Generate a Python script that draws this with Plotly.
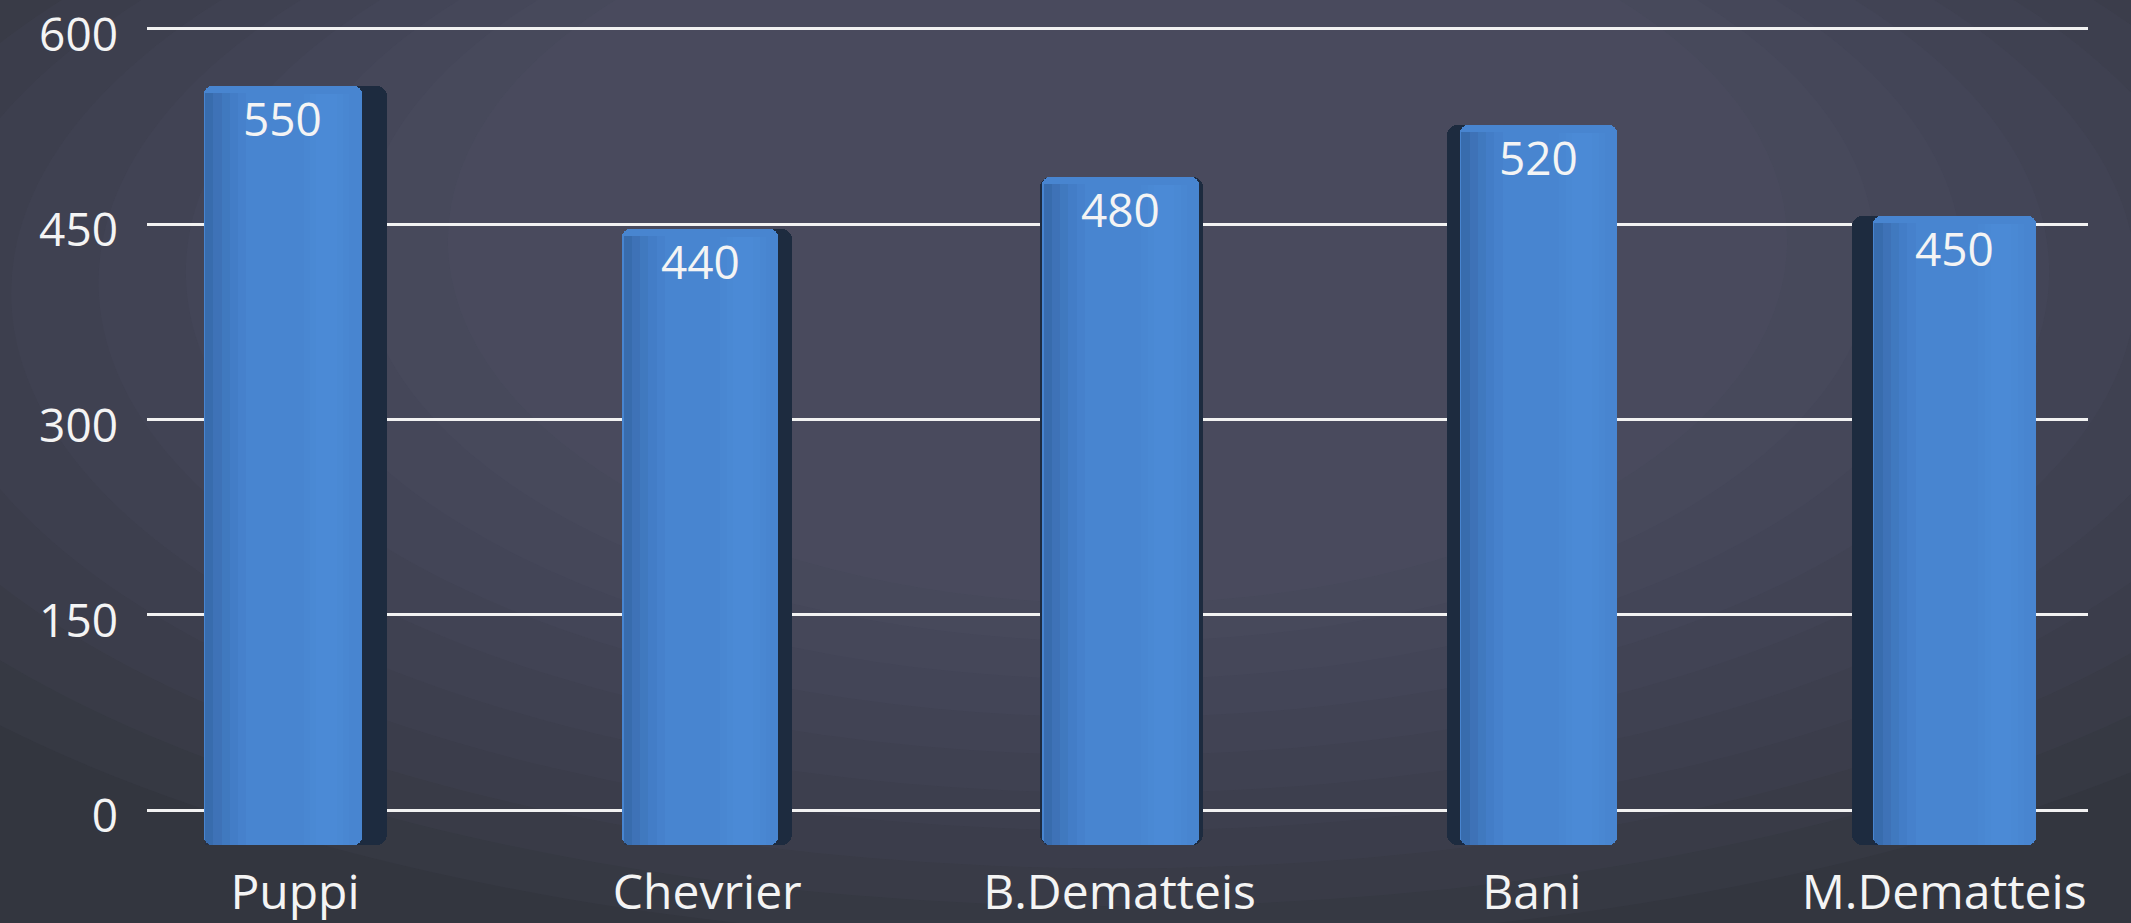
import plotly.graph_objects as go

# ---- data ----
categories = ["Puppi", "Chevrier", "B.Dematteis", "Bani", "M.Dematteis"]
values = [550, 440, 480, 520, 450]
y_ticks = [0, 150, 300, 450, 600]

# ---- styling (3D-look bars: dark side body + lit front face) ----
BASE = -27
TOP_PAD = 6
PX_PER_CAT = 412.25
side_offset = [-0.221, -0.206, -0.193, -0.206, -0.223]
side_width = [0.444, 0.412, 0.395, 0.412, 0.446]
front_offset = [-0.221, -0.206, -0.187, -0.174, -0.172]
front_width = [0.383, 0.378, 0.380, 0.381, 0.395]

FONT = "Open Sans"
WHITE = "#f4f4f4"

fig = go.Figure()

heights = [v - BASE + TOP_PAD for v in values]

# dark body (side faces)
fig.add_trace(go.Bar(
    x=categories, y=heights, base=BASE,
    offset=side_offset, width=side_width,
    marker=dict(color="#1d2b3f", line=dict(width=0), cornerradius=10),
    hoverinfo="skip", showlegend=False,
))
# front face
fig.add_trace(go.Bar(
    x=categories, y=heights, base=BASE,
    offset=front_offset, width=front_width,
    marker=dict(color="#4885d0", line=dict(width=0), cornerradius=8),
    customdata=values, hovertemplate="%{x}: %{customdata}<extra></extra>",
    showlegend=False,
))
# soft left shading of the front face (layered thin strips)
for k, a in enumerate([0.10, 0.08, 0.06, 0.045, 0.03]):
    fig.add_trace(go.Bar(
        x=categories, y=[h - 5 for h in heights], base=BASE,
        offset=[o + 0.003 for o in front_offset], width=[0.02 + 0.02 * k] * 5,
        marker=dict(color=f"rgba(20,45,90,{a})", line=dict(width=0)),
        hoverinfo="skip", showlegend=False,
    ))
# soft highlight towards the right of the front face
for k, a in enumerate([0.06, 0.06, 0.06]):
    fig.add_trace(go.Bar(
        x=categories, y=[h - 6 for h in heights], base=BASE,
        offset=[o + w - 0.14 + 0.015 * k for o, w in zip(front_offset, front_width)],
        width=[0.11 - 0.03 * k] * 5,
        marker=dict(color=f"rgba(110,170,250,{a})", line=dict(width=0)),
        hoverinfo="skip", showlegend=False,
    ))

# value labels near the top of each bar
for i, (c, v) in enumerate(zip(categories, values)):
    xs = (front_offset[i] + front_width[i] / 2) * PX_PER_CAT
    fig.add_annotation(
        x=c, y=v, text=str(v), showarrow=False, xref="x", yref="y",
        xshift=xs, yshift=-24,
        font=dict(family=FONT, size=46, color=WHITE),
    )

# chalkboard-like soft background glow
n = 10
for k in range(n):
    t = k / n
    fig.add_shape(type="circle", xref="paper", yref="paper",
                  x0=-0.25 + 0.45 * t, x1=1.25 - 0.45 * t,
                  y0=-0.1 + 0.45 * t, y1=1.35 - 0.2 * t,
                  fillcolor="rgba(95,102,124,0.07)", line=dict(width=0), layer="below")

fig.update_layout(
    width=2131, height=923,
    margin=dict(l=147, r=43, t=20, b=63, autoexpand=False),
    paper_bgcolor="#33363f",
    plot_bgcolor="rgba(0,0,0,0)",
    barmode="overlay",
    bargap=0,
    xaxis=dict(
        type="category",
        range=[-0.359, 4.349],
        showgrid=False, zeroline=False, showline=False,
        ticks="", tickfont=dict(family=FONT, size=48, color=WHITE),
        ticklabelstandoff=0, automargin=False,
    ),
    yaxis=dict(
        range=[-38.4, 606.9],
        tickvals=y_ticks, ticktext=[str(t) for t in y_ticks],
        showgrid=True, gridcolor="#f2f2f2", gridwidth=3,
        zeroline=False, showline=False, ticks="",
        tickfont=dict(family=FONT, size=46, color=WHITE),
        ticklabelstandoff=28, ticklabelshift=6,
        ticklabeloverflow="allow", automargin=False,
    ),
    font=dict(family=FONT, color=WHITE),
)

fig.write_html("out.html")
